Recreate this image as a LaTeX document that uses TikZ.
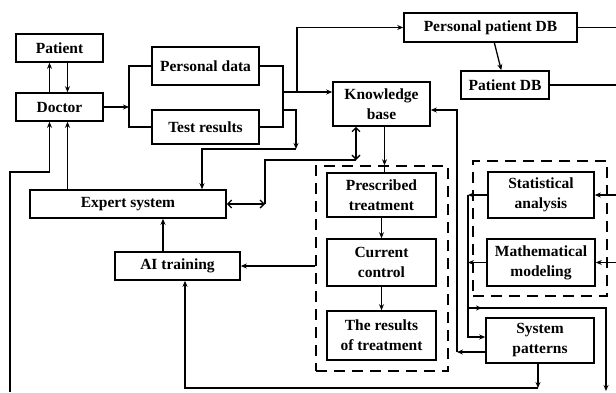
\documentclass[tikz,border=0pt]{standalone}
\usepackage{fontspec}
\setmainfont{Liberation Serif}
\usetikzlibrary{arrows.meta}

\tikzset{
  blk/.style={draw,line width=1.6pt,inner sep=0pt,align=center,
    font=\bfseries\fontsize{15.5}{20}\selectfont},
  grp/.style={draw,line width=1.5pt,dash pattern=on 11pt off 7pt,inner sep=0pt},
  arr/.style={line width=1.3pt,-{Stealth[length=6pt,width=5pt]}},
  dbl/.style={line width=1.3pt,{Straight Barb[length=4pt,width=8pt]}-{Straight Barb[length=4pt,width=8pt]}},
  ln/.style={line width=1.3pt}
}

\begin{document}
\begin{tikzpicture}[x=1pt,y=-1pt]
  \useasboundingbox (0,0) rectangle (616,392);

  \node[blk,minimum width=87pt,minimum height=28pt] (patient) at (59.5,48) {Patient};
  \node[blk,minimum width=87pt,minimum height=28pt] (doctor) at (59.5,107) {Doctor};
  \node[blk,minimum width=107pt,minimum height=38pt] (pdata) at (205.5,66) {Personal data};
  \node[blk,minimum width=107pt,minimum height=34pt] (tres) at (205.5,127) {Test results};
  \node[blk,minimum width=173pt,minimum height=29pt] (ppdb) at (490.5,27.5) {Personal patient DB};
  \node[blk,minimum width=88pt,minimum height=28pt] (pdb) at (505,85) {Patient DB};
  \node[blk,minimum width=97pt,minimum height=44pt] (kb) at (381.5,104) {Knowledge\\base};
  \node[blk,minimum width=196pt,minimum height=28pt] (expert) at (128,204) {Expert system};
  \node[blk,minimum width=125pt,minimum height=28pt] (ai) at (177.5,266) {AI training};

  \node[grp,minimum width=132pt,minimum height=205pt] (treat) at (382,268.5) {};
  \node[blk,minimum width=109pt,minimum height=44pt] (presc) at (381.5,195) {Prescribed\\treatment};
  \node[blk,minimum width=109pt,minimum height=47pt] (curr) at (381.5,262.5) {Current\\control};
  \node[blk,minimum width=109pt,minimum height=49pt] (resu) at (381.5,335.5) {The results\\of treatment};

  \node[grp,minimum width=134pt,minimum height=135pt] (model) at (540,228.5) {};
  \node[blk,minimum width=106pt,minimum height=46pt] (stat) at (541,195) {Statistical\\analysis};
  \node[blk,minimum width=108pt,minimum height=47pt] (math) at (541,262.5) {Mathematical\\modeling};
  \node[blk,minimum width=108pt,minimum height=45pt] (syst) at (540,340.5) {System\\patterns};

  \coordinate (lb) at (129,107);
  \coordinate (rb) at (283,92);
  \coordinate (rt) at (297,92);
  \coordinate (tb) at (283,110);
  \coordinate (td) at (296,149);
  \coordinate (ek) at (265,204);
  \coordinate (kbl) at (356,160);
  \coordinate (lft) at (10,392);
  \coordinate (lh) at (0,172);
  \coordinate (bot) at (0,388);
  \coordinate (kx) at (457,0);
  \coordinate (bx) at (468,0);
  \coordinate (by) at (0,308);
  \coordinate (rgt) at (606,391);
  \coordinate (edge) at (616,0);

  % patient and doctor
  \draw[arr] ([xshift=-10pt]doctor.north) -- ([xshift=-10pt]patient.south);
  \draw[arr] ([xshift=8pt]patient.south) -- ([xshift=8pt]doctor.north);
  \draw[arr] ([xshift=8pt]doctor.south |- expert.north) -- ([xshift=8pt]doctor.south);
  \draw[arr] (lft) |- ([xshift=-10pt]doctor.south |- lh) -- ([xshift=-10pt]doctor.south);

  % data of the patient
  \draw[arr] (doctor.east) -- (lb);
  \draw[ln] (pdata.west) -| (lb) |- (tres.west);
  \draw[ln] (pdata.east) -| (rb) |- (tres.east);
  \draw[arr] (rb) -- (rb -| kb.west);
  \draw[arr] (rt) |- (ppdb.west);
  \draw[arr] (tb) -| (td);
  \draw[arr] (td) -| ([xshift=74pt]expert.north);
  \draw[arr] (ppdb) -- (pdb);
  \draw[ln] (ppdb.east) -- (ppdb.east -| edge);
  \draw[ln] (pdb.east) -- (pdb.east -| edge);

  % knowledge base and expert system
  \draw[dbl] (expert.east) -- (ek);
  \draw[ln] (ek) |- (kbl);
  \draw[dbl] (kbl |- kb.south) -- (kbl);
  \draw[arr] ([xshift=3pt]kb.south) -- ([xshift=3pt]kb.south |- treat.north);
  \draw[ln] ([xshift=3pt]kb.south |- treat.north) -- ([xshift=3pt]presc.north);

  % treatment
  \draw[arr] (presc) -- (curr);
  \draw[arr] (curr) -- (resu);
  \draw[arr] (treat.west |- ai.east) -- (ai.east);
  \draw[arr] ([xshift=-14.5pt]ai.north) -- ([xshift=-14.5pt]ai.north |- expert.south);

  % models and patterns
  \draw[arr] (stat.east -| edge) -- (stat.east);
  \draw[arr] (math.east -| edge) -- (math.east);
  \draw[arr] (stat.west) -- (stat.west -| bx);
  \draw[arr] (math.west) -- (math.west -| bx);
  \draw[arr] (stat.west -| bx) |- ([yshift=3.5pt]syst.west);
  \draw[arr] (bx |- by) -- ++(14,0);
  \draw[arr] (bx |- by) -| (rgt);
  \draw[arr] ([yshift=-11.5pt]syst.west) -- ([yshift=-11.5pt]syst.west -| kx);
  \draw[arr] ([yshift=-11.5pt]syst.west -| kx) |- ([yshift=-6pt]kb.east);
  \draw[arr] ([xshift=-2pt]syst.south) -- ([xshift=-2pt]syst.south |- bot);
  \draw[arr] ([xshift=-2pt]syst.south |- bot) -| ([xshift=7.5pt]ai.south);
\end{tikzpicture}
\end{document}
